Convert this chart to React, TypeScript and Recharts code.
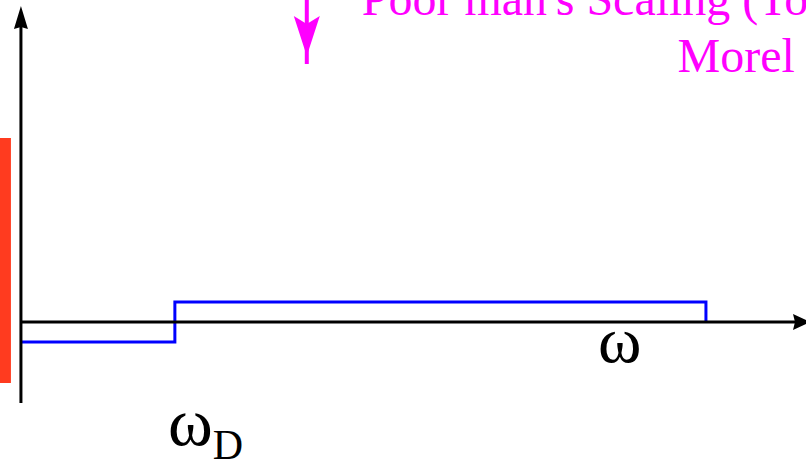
import { ComposedChart, Line, XAxis, YAxis, ReferenceLine, ReferenceArea, ReferenceDot } from 'recharts'

// frequency in units of the Debye frequency, interaction in units of the coupling
const omega = [0, 1, 4.45]
const interaction = [-1, 1, 0]

const xDomain = [-0.136, 5.1]
const yDomain = [-7, 16.1]

const axisLabel = 'ω'
const debyeLabel = 'ω'
const debyeSub = 'D'
const titleLine1 = "Poor man's Scaling (Tolmachev,"
const titleLine2 = 'Morel'

const data = omega.map((w, i) => ({ w, v: interaction[i] }))

const serif = "'Liberation Serif', 'Times New Roman', serif"

function Arrow(props: any) {
  const { x1, y1, x2, y2, color, width, head, half } = props
  const dx = x2 - x1
  const dy = y2 - y1
  const len = Math.sqrt(dx * dx + dy * dy) || 1
  const ux = dx / len
  const uy = dy / len
  const bx = x2 - ux * head
  const by = y2 - uy * head
  const pts = [
    [x2, y2],
    [bx - uy * half, by + ux * half],
    [bx + ux * 2, by + uy * 2],
    [bx + uy * half, by - ux * half],
  ]
  return (
    <g>
      <line x1={x1} y1={y1} x2={bx + ux * 3} y2={by + uy * 3} stroke={color} strokeWidth={width} />
      <polygon points={pts.map((p) => p.join(',')).join(' ')} fill={color} />
    </g>
  )
}

function MagentaArrow(props: any) {
  const { x1, y1, x2, y2 } = props
  return (
    <g>
      <line x1={x1} y1={y1} x2={x2} y2={y2} stroke="#ff00ff" strokeWidth={4} />
      <polygon points={`${x1 - 13},${y2 - 48} ${x1},${y2 - 40} ${x1 + 13},${y2 - 48} ${x1},${y2 - 8}`} fill="#ff00ff" />
    </g>
  )
}

export default function App() {
  return (
    <div style={{ position: 'absolute', left: 0, top: 0, width: 806, height: 462, background: '#fff' }}>
      <ComposedChart width={806} height={462} data={data} margin={{ top: 0, right: 0, bottom: 0, left: 0 }}>
        <XAxis dataKey="w" type="number" domain={xDomain} hide allowDataOverflow />
        <YAxis type="number" domain={yDomain} hide allowDataOverflow />
        <ReferenceArea x1={-0.136} x2={-0.065} y1={-3.05} y2={9.2} fill="#ff3b1f" fillOpacity={1} stroke="none" />
        <Line dataKey="v" type="stepAfter" stroke="#0000ff" strokeWidth={3} dot={false} activeDot={false} isAnimationActive={false} />
        <ReferenceLine
          segment={[{ x: 0, y: 0 }, { x: 5.1, y: 0 }]}
          shape={(p: any) => <Arrow {...p} x2={p.x2 + 4} color="#000" width={3} head={17} half={8} />}
        />
        <ReferenceLine
          segment={[{ x: 0, y: -4.05 }, { x: 0, y: 15.8 }]}
          shape={(p: any) => <Arrow {...p} color="#000" width={3} head={23} half={7} />}
        />
        <ReferenceLine
          segment={[{ x: 1.857, y: 16.1 }, { x: 1.857, y: 12.9 }]}
          shape={(p: any) => <MagentaArrow {...p} />}
        />
        <ReferenceDot
          x={3.89}
          y={-2}
          r={0}
          shape={(p: any) => (
            <text x={p.cx} y={p.cy} textAnchor="middle" fontFamily={serif} fontSize={66} fill="#000">
              {axisLabel}
            </text>
          )}
        />
        <ReferenceDot
          x={0.955}
          y={-6.15}
          r={0}
          shape={(p: any) => (
            <text x={p.cx} y={p.cy} fontFamily={serif} fontSize={68} fill="#000">
              {debyeLabel}
              <tspan fontSize={42} dy={14}>{debyeSub}</tspan>
            </text>
          )}
        />
        <ReferenceDot
          x={2.214}
          y={15.35}
          r={0}
          shape={(p: any) => (
            <text x={p.cx} y={p.cy} fontFamily={serif} fontSize={48} fill="#ff00ff">
              {titleLine1}
            </text>
          )}
        />
        <ReferenceDot
          x={4.266}
          y={12.5}
          r={0}
          shape={(p: any) => (
            <text x={p.cx} y={p.cy} fontFamily={serif} fontSize={48} fill="#ff00ff">
              {titleLine2}
            </text>
          )}
        />
      </ComposedChart>
    </div>
  )
}
